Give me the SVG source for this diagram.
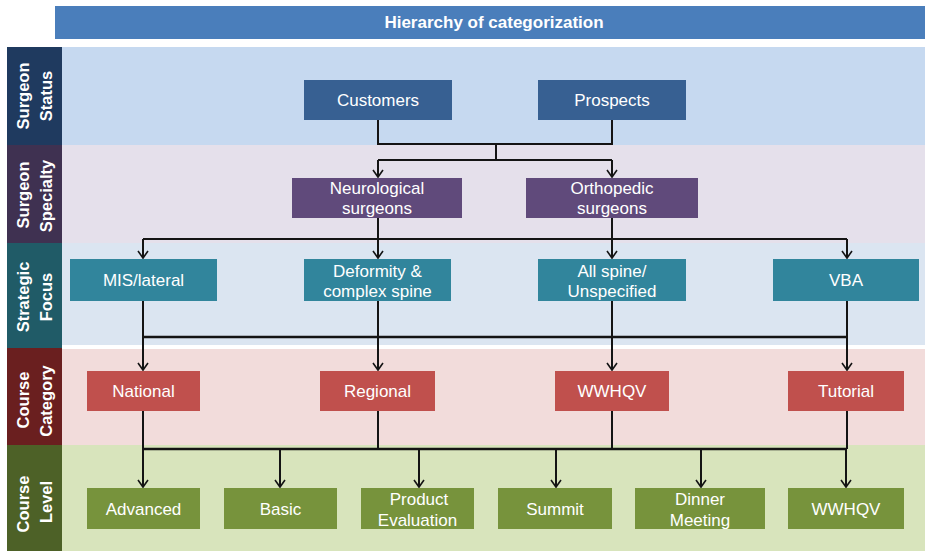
<svg xmlns="http://www.w3.org/2000/svg" width="925" height="551" viewBox="0 0 925 551">
  <style>
    text { font-family: "Liberation Sans", Arial, sans-serif; fill: #ffffff; text-anchor: middle; }
    .node { font-size: 17px; }
    .title { font-size: 17px; font-weight: bold; }
    .side { font-size: 16.5px; font-weight: bold; }
    .wire { stroke: #141414; stroke-width: 2; fill: none; }
    .status rect { fill: #376092; }
    .specialty rect { fill: #604a7b; }
    .focus rect { fill: #31859c; }
    .category rect { fill: #c0504d; }
    .level rect { fill: #77933c; }
  </style>
  <defs>
    <marker id="arrow" markerUnits="userSpaceOnUse" viewBox="-9 -6 11 12" markerWidth="11" markerHeight="12" refX="0" refY="0" orient="auto">
      <path d="M-7,-5 L0,0 L-7,5" fill="none" stroke="#141414" stroke-width="1.6"/>
    </marker>
  </defs>

  <rect x="0" y="0" width="925" height="551" fill="#ffffff"/>

  <!-- header -->
  <g id="header">
    <rect x="55" y="6" width="870" height="33" fill="#4a7ebb"/>
    <text class="title" x="494" y="28">Hierarchy of categorization</text>
  </g>

  <!-- level bands -->
  <g id="bands">
    <rect x="62" y="47" width="863" height="98" fill="#c6d9f0"/>
    <rect x="62" y="145" width="863" height="98" fill="#e5e0eb"/>
    <rect x="62" y="243" width="863" height="102" fill="#dbe5f1"/>
    <rect x="62" y="345" width="863" height="4" fill="#ffffff"/>
    <rect x="62" y="349" width="863" height="96" fill="#f2dcdb"/>
    <rect x="62" y="445" width="863" height="106" fill="#d8e4bc"/>
  </g>

  <!-- side labels -->
  <g id="side-status">
    <rect x="7" y="47" width="55" height="98" fill="#1f3a5f"/>
    <text class="side" transform="translate(29,96) rotate(-90)">Surgeon</text>
    <text class="side" transform="translate(52,96) rotate(-90)">Status</text>
  </g>
  <g id="side-specialty">
    <rect x="7" y="145" width="55" height="98" fill="#3f3151"/>
    <text class="side" transform="translate(29,195) rotate(-90)">Surgeon</text>
    <text class="side" transform="translate(52,196) rotate(-90)">Specialty</text>
  </g>
  <g id="side-focus">
    <rect x="7" y="243" width="55" height="105" fill="#205b67"/>
    <text class="side" transform="translate(29,297) rotate(-90)">Strategic</text>
    <text class="side" transform="translate(52,297) rotate(-90)">Focus</text>
  </g>
  <g id="side-category">
    <rect x="7" y="348" width="55" height="97" fill="#6a1f1f"/>
    <text class="side" transform="translate(29,400) rotate(-90)">Course</text>
    <text class="side" transform="translate(52,401) rotate(-90)">Category</text>
  </g>
  <g id="side-level">
    <rect x="7" y="445" width="55" height="106" fill="#4d6127"/>
    <text class="side" transform="translate(29,504) rotate(-90)">Course</text>
    <text class="side" transform="translate(52,502) rotate(-90)">Level</text>
  </g>

  <!-- connectors -->
  <g id="connectors" class="wire">
    <!-- status to specialty -->
    <path d="M378,120 V144 H612 V120"/>
    <path d="M496,144 V160"/>
    <path d="M378,160 H612"/>
    <path d="M378,160 V177" marker-end="url(#arrow)"/>
    <path d="M612,160 V177" marker-end="url(#arrow)"/>
    <!-- specialty to focus -->
    <path d="M378,218 V239"/>
    <path d="M612,218 V239"/>
    <path d="M143,239 H847"/>
    <path d="M143,239 V258" marker-end="url(#arrow)"/>
    <path d="M378,239 V258" marker-end="url(#arrow)"/>
    <path d="M612,239 V258" marker-end="url(#arrow)"/>
    <path d="M847,239 V258" marker-end="url(#arrow)"/>
    <!-- focus to category -->
    <path d="M143,301 V337"/>
    <path d="M378,301 V337"/>
    <path d="M612,301 V337"/>
    <path d="M847,301 V337"/>
    <path d="M143,337 H847" stroke-width="2.5"/>
    <path d="M143,337 V370" marker-end="url(#arrow)"/>
    <path d="M378,337 V370" marker-end="url(#arrow)"/>
    <path d="M612,337 V370" marker-end="url(#arrow)"/>
    <path d="M847,337 V370" marker-end="url(#arrow)"/>
    <!-- category to level -->
    <path d="M143,411 V449"/>
    <path d="M378,411 V449"/>
    <path d="M612,411 V449"/>
    <path d="M847,411 V449"/>
    <path d="M143,449 H847" stroke-width="2.5"/>
    <path d="M143,449 V487" marker-end="url(#arrow)"/>
    <path d="M280,449 V487" marker-end="url(#arrow)"/>
    <path d="M419,449 V487" marker-end="url(#arrow)"/>
    <path d="M556,449 V487" marker-end="url(#arrow)"/>
    <path d="M701,449 V487" marker-end="url(#arrow)"/>
    <path d="M846,449 V487" marker-end="url(#arrow)"/>
  </g>

  <!-- surgeon status -->
  <g id="customers" class="status">
    <rect x="304" y="80" width="148" height="40"/>
    <text class="node" x="378" y="106">Customers</text>
  </g>
  <g id="prospects" class="status">
    <rect x="538" y="80" width="148" height="40"/>
    <text class="node" x="612" y="106">Prospects</text>
  </g>

  <!-- surgeon specialty -->
  <g id="neurological" class="specialty">
    <rect x="292" y="178" width="170" height="40"/>
    <text class="node" x="377" y="194">Neurological</text>
    <text class="node" x="377" y="214">surgeons</text>
  </g>
  <g id="orthopedic" class="specialty">
    <rect x="526" y="178" width="172" height="40"/>
    <text class="node" x="612" y="194">Orthopedic</text>
    <text class="node" x="612" y="214">surgeons</text>
  </g>

  <!-- strategic focus -->
  <g id="mis-lateral" class="focus">
    <rect x="70" y="259" width="147" height="42"/>
    <text class="node" x="143.5" y="286">MIS/lateral</text>
  </g>
  <g id="deformity" class="focus">
    <rect x="304" y="259" width="147" height="42"/>
    <text class="node" x="377.5" y="277">Deformity &amp;</text>
    <text class="node" x="377.5" y="297">complex spine</text>
  </g>
  <g id="all-spine" class="focus">
    <rect x="538" y="259" width="148" height="42"/>
    <text class="node" x="612" y="277">All spine/</text>
    <text class="node" x="612" y="297">Unspecified</text>
  </g>
  <g id="vba" class="focus">
    <rect x="773" y="259" width="146" height="42"/>
    <text class="node" x="846" y="286">VBA</text>
  </g>

  <!-- course category -->
  <g id="national" class="category">
    <rect x="87" y="371" width="113" height="40"/>
    <text class="node" x="143.5" y="397">National</text>
  </g>
  <g id="regional" class="category">
    <rect x="320" y="371" width="115" height="40"/>
    <text class="node" x="377.5" y="397">Regional</text>
  </g>
  <g id="wwhqv-category" class="category">
    <rect x="555" y="371" width="114" height="40"/>
    <text class="node" x="612" y="397">WWHQV</text>
  </g>
  <g id="tutorial" class="category">
    <rect x="788" y="371" width="116" height="40"/>
    <text class="node" x="846" y="397">Tutorial</text>
  </g>

  <!-- course level -->
  <g id="advanced" class="level">
    <rect x="87" y="488" width="113" height="41"/>
    <text class="node" x="143.5" y="515">Advanced</text>
  </g>
  <g id="basic" class="level">
    <rect x="224" y="488" width="113" height="41"/>
    <text class="node" x="280.5" y="515">Basic</text>
  </g>
  <g id="product-evaluation" class="level">
    <rect x="361" y="488" width="113" height="41"/>
    <text class="node" x="419" y="505">Product</text>
    <text class="node" x="417.5" y="526">Evaluation</text>
  </g>
  <g id="summit" class="level">
    <rect x="498" y="488" width="114" height="41"/>
    <text class="node" x="555" y="515">Summit</text>
  </g>
  <g id="dinner-meeting" class="level">
    <rect x="635" y="488" width="130" height="41"/>
    <text class="node" x="700" y="505">Dinner</text>
    <text class="node" x="700" y="526">Meeting</text>
  </g>
  <g id="wwhqv-level" class="level">
    <rect x="788" y="488" width="116" height="41"/>
    <text class="node" x="846" y="515">WWHQV</text>
  </g>
</svg>
